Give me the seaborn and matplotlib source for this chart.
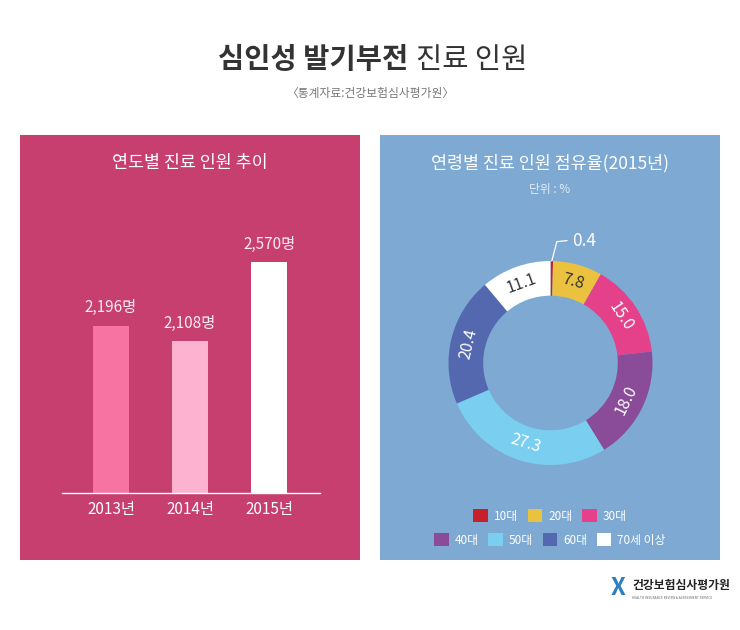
import numpy as np
import pandas as pd
import seaborn as sns
import matplotlib
matplotlib.use("Agg")
import matplotlib.pyplot as plt
from matplotlib.patches import Rectangle, Patch

# ---------------- data ----------------
years = ["2013년", "2014년", "2015년"]
patients = [2196, 2108, 2570]
bar_colors = ["#F774A2", "#FDB3CF", "#FFFFFF"]

age_groups = ["10대", "20대", "30대", "40대", "50대", "60대", "70세 이상"]
age_share = [0.4, 7.8, 15.0, 18.0, 27.3, 20.4, 11.1]
age_colors = ["#C8202A", "#EBC23F", "#E5418A", "#8A4B99", "#7ACFF0", "#5468B0", "#FFFFFF"]
dark_label_groups = ["20대", "70세 이상"]

sns.set_theme(style="white")
plt.rcParams["font.family"] = ["Noto Sans CJK KR", "DejaVu Sans"]

W, H = 740, 630
fig = plt.figure(figsize=(W / 100, H / 100), dpi=100)
fig.patch.set_facecolor("white")

def fx(px):
    return px / W

def fy(py):
    return 1 - py / H

PINK = "#C73F6E"
BLUE = "#7DA9D3"

# panels
fig.patches.append(Rectangle((fx(20), fy(560)), fx(340), 425 / H, transform=fig.transFigure,
                             facecolor=PINK, edgecolor="none", zorder=-5))
fig.patches.append(Rectangle((fx(380), fy(560)), fx(340), 425 / H, transform=fig.transFigure,
                             facecolor=BLUE, edgecolor="none", zorder=-5))

# titles
fig.text(fx(408), fy(60), "심인성 발기부전", ha="right", va="center", fontsize=20.5,
         fontweight="bold", color="#333333")
fig.text(fx(416), fy(60), "진료 인원", ha="left", va="center", fontsize=20.5, color="#333333")
fig.text(fx(370), fy(93), "〈통계자료:건강보험심사평가원〉", ha="center", va="center",
         fontsize=8.5, color="#777777")

fig.text(fx(190), fy(163), "연도별 진료 인원 추이", ha="center", va="center",
         fontsize=12.5, color="white")
fig.text(fx(550), fy(163), "연령별 진료 인원 점유율(2015년)", ha="center", va="center",
         fontsize=12.5, color="white")
fig.text(fx(550), fy(189), "단위 : %", ha="center", va="center", fontsize=8.5, color="#E4ECF6")

# ---------------- bar chart ----------------
ax = fig.add_axes([fx(62), 137 / H, fx(258), 253 / H])
ax.set_facecolor("none")
df = pd.DataFrame({"year": years, "patients": patients})
sns.barplot(data=df, x="year", y="patients", hue="year", palette=bar_colors,
            width=0.456, legend=False, ax=ax, saturation=1, linewidth=0)
ax.set_ylim(1220, 2700)
ax.set_xlim(-0.62, 2.645)
for s in ["top", "right", "left"]:
    ax.spines[s].set_visible(False)
ax.spines["bottom"].set_color("white")
ax.spines["bottom"].set_linewidth(1)
ax.set_yticks([])
ax.set_xlabel("")
ax.set_ylabel("")
ax.tick_params(axis="x", length=0, pad=6, labelsize=11, labelcolor="white")
for i, v in enumerate(patients):
    ax.annotate(f"{v:,}명", (i, v), xytext=(0, 7), textcoords="offset points",
                ha="center", va="bottom", fontsize=11, color="#FCEAF1")

# ---------------- donut ----------------
cx, cy, R = 550.5, 363, 102
pax = fig.add_axes([fx(cx - R), fy(cy + R), 2 * R / W, 2 * R / H])
pax.set_facecolor("none")
wedges, _ = pax.pie(age_share, colors=age_colors, startangle=90, counterclock=False,
                    radius=1, wedgeprops=dict(width=0.34, linewidth=0))
pax.set_xlim(-1, 1)
pax.set_ylim(-1, 1)
pax.set_aspect("equal")
pax.axis("off")

total = sum(age_share)
cum = 0
for g, v in zip(age_groups, age_share):
    mid = (cum + v / 2) / total * 360
    cum += v
    t = np.deg2rad(mid)
    if v < 2:
        x0, y0 = np.sin(t), np.cos(t)
        pax.plot([x0, x0 + 0.05, x0 + 0.15], [y0, y0 + 0.19, y0 + 0.2],
                 color="white", lw=0.9, clip_on=False)
        pax.text(x0 + 0.2, y0 + 0.2, f"{v}", ha="left", va="center", fontsize=12.5,
                 color="white", clip_on=False)
        continue
    r = 0.83
    rot = -mid
    while rot <= -90:
        rot += 180
    while rot > 90:
        rot -= 180
    col = "#333333" if g in dark_label_groups else "white"
    pax.text(r * np.sin(t), r * np.cos(t), f"{v}", ha="center", va="center",
             rotation=rot, rotation_mode="anchor", fontsize=11.5, color=col)

# legend
handles = [Patch(facecolor=c, edgecolor="none") for c in age_colors]
leg_kw = dict(loc="center", frameon=False, fontsize=8.5, handlelength=1.25, handleheight=1.25,
              handletextpad=0.5, columnspacing=0.8, labelcolor="white")
leg1 = fig.legend(handles[:3], age_groups[:3], bbox_to_anchor=(fx(550), fy(516)), ncol=3, **leg_kw)
leg2 = fig.legend(handles[3:], age_groups[3:], bbox_to_anchor=(fx(550), fy(540)), ncol=4, **leg_kw)

# logo
fig.text(fx(618), fy(588), "X", ha="center", va="center", fontsize=17, fontweight="bold",
         color="#2E7FC0")
fig.text(fx(632), fy(586), "건강보험심사평가원", ha="left", va="center", fontsize=8.5,
         fontweight="bold", color="#222222")
fig.text(fx(632), fy(598), "HEALTH INSURANCE REVIEW & ASSESSMENT SERVICE", ha="left",
         va="center", fontsize=2.3, color="#666666")

fig.savefig("out.png", dpi=100)
